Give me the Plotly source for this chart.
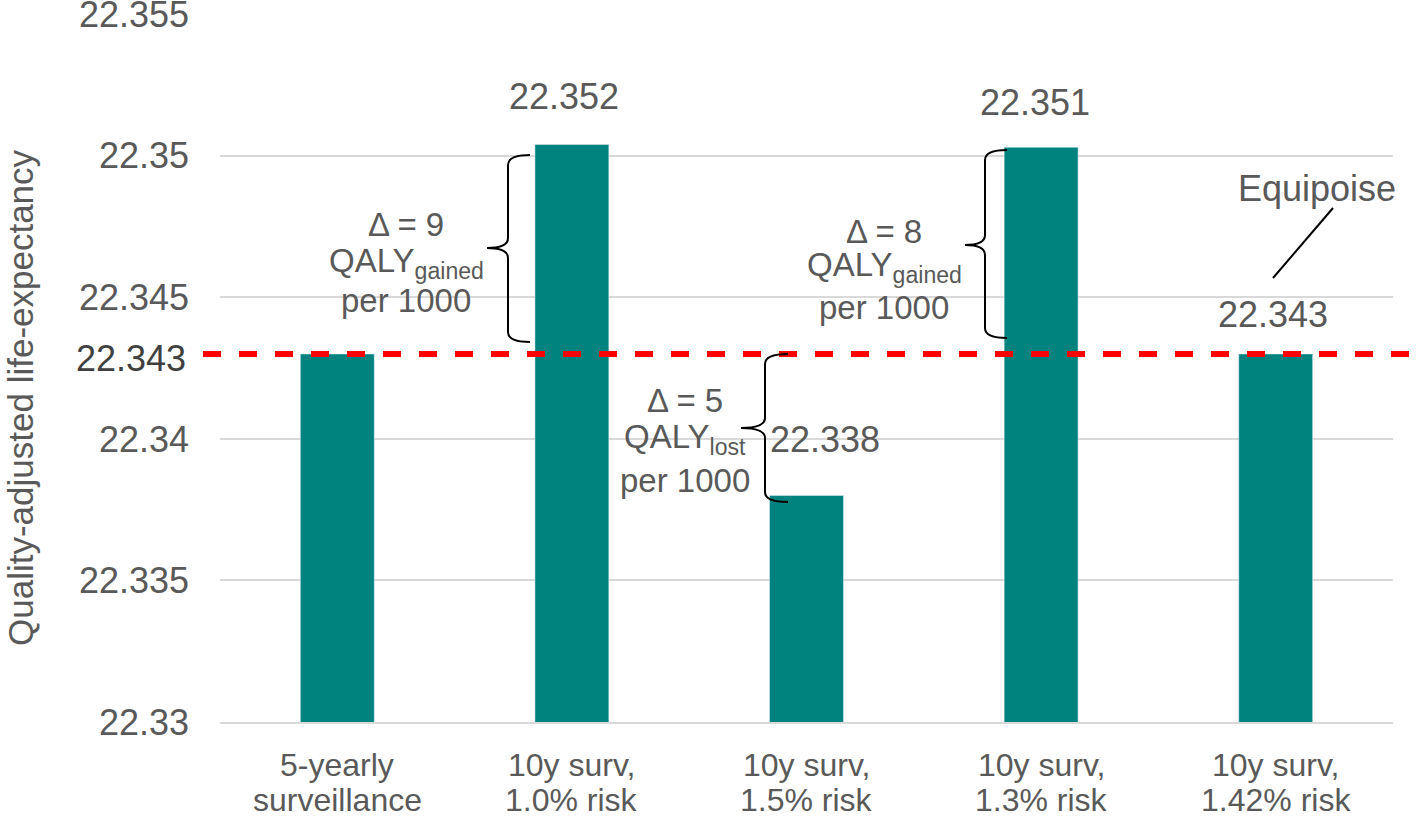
import plotly.graph_objects as go

# data
categories = ["5-yearly surveillance", "10y surv, 1.0% risk", "10y surv, 1.5% risk",
              "10y surv, 1.3% risk", "10y surv, 1.42% risk"]
cat_line1 = ["5-yearly", "10y surv,", "10y surv,", "10y surv,", "10y surv,"]
cat_line2 = ["surveillance", "1.0% risk", "1.5% risk", "1.3% risk", "1.42% risk"]
qale = [22.343, 22.3504, 22.338, 22.3503, 22.343]
bar_labels = ["", "22.352", "22.338", "22.351", "22.343"]
equipoise = 22.343
y_ticks = [22.33, 22.335, 22.34, 22.345, 22.35, 22.355]

FONT = "Liberation Sans, Arial, sans-serif"
GREY = "#595959"
TEAL = "#00827f"

# plot area in pixels (used for placing the hand-drawn annotations)
L, R, T, B = 220, 1393, 14, 722


def px(x):
    return (x - L) / (R - L)


def py(y):
    return (B - y) / (B - T)


def brace(x_end, x_mid, x_tip, y_top, y_tip, y_bot, r=10):
    # left-pointing curly brace, coordinates in pixels
    pts = [
        f"M {px(x_end)},{py(y_top)}",
        f"Q {px(x_mid)},{py(y_top)} {px(x_mid)},{py(y_top + r)}",
        f"L {px(x_mid)},{py(y_tip - r)}",
        f"Q {px(x_mid)},{py(y_tip)} {px(x_tip)},{py(y_tip)}",
        f"Q {px(x_mid)},{py(y_tip)} {px(x_mid)},{py(y_tip + r)}",
        f"L {px(x_mid)},{py(y_bot - r)}",
        f"Q {px(x_mid)},{py(y_bot)} {px(x_end)},{py(y_bot)}",
    ]
    return dict(type="path", xref="paper", yref="paper", path=" ".join(pts),
                line=dict(color="black", width=2))


def text_block(fig, x, ys, lines, size=33):
    for y, t in zip(ys, lines):
        fig.add_annotation(xref="paper", yref="paper", x=px(x), y=py(y), text=t,
                           showarrow=False, xanchor="center", yanchor="middle",
                           font=dict(size=size, color=GREY, family=FONT))


fig = go.Figure(go.Bar(
    x=categories, y=qale, marker_color=TEAL, width=0.315, hoverinfo="skip",
))

# value labels above the bars (pixel shifts)
label_shift = [(0, 0), (-8, 48), (18, 56), (-6, 45), (-3, 39)]
for i, (lab, v) in enumerate(zip(bar_labels, qale)):
    if not lab:
        continue
    dx, dy = label_shift[i]
    fig.add_annotation(x=categories[i], y=v, text=lab, showarrow=False,
                       xshift=dx, yshift=dy, xanchor="center", yanchor="middle",
                       font=dict(size=36, color=GREY, family=FONT))

# two-line category labels
for c, l1, l2 in zip(categories, cat_line1, cat_line2):
    fig.add_annotation(x=c, yref="paper", y=py(765), text=l1, showarrow=False,
                       xanchor="center", yanchor="middle",
                       font=dict(size=32, color=GREY, family=FONT))
    fig.add_annotation(x=c, yref="paper", y=py(800), text=l2, showarrow=False,
                       xanchor="center", yanchor="middle",
                       font=dict(size=32, color=GREY, family=FONT))

# equipoise line
fig.add_shape(type="line", xref="paper", yref="y", x0=px(203), x1=px(1416),
              y0=equipoise, y1=equipoise,
              line=dict(color="#ff0000", width=6, dash="dash"))

# braces
fig.add_shape(brace(530, 508, 487, 155, 248, 342))
fig.add_shape(brace(788, 765, 741, 354, 428, 502))
fig.add_shape(brace(1007, 985, 965, 150, 245, 338))

# delta annotations
text_block(fig, 406, [225, 263, 301], ["Δ = 9", "QALY<sub>gained</sub>", "per 1000"])
text_block(fig, 685, [400, 439, 481], ["Δ = 5", "QALY<sub>lost</sub>", "per 1000"])
text_block(fig, 884, [231, 267, 307], ["Δ = 8", "QALY<sub>gained</sub>", "per 1000"])

# equipoise callout
fig.add_shape(type="line", xref="paper", yref="paper", x0=px(1333), y0=py(208),
              x1=px(1273), y1=py(278), line=dict(color="black", width=2))
fig.add_annotation(xref="paper", yref="paper", x=px(1317), y=py(189), text="Equipoise",
                   showarrow=False, xanchor="center", yanchor="middle",
                   font=dict(size=36, color=GREY, family=FONT))

# extra tick label for equipoise value
fig.add_annotation(xref="paper", yref="y", x=px(188), y=equipoise, yshift=-5,
                   xanchor="right", yanchor="middle", text=f"{equipoise:.3f}",
                   showarrow=False, font=dict(size=36, color="#404040", family=FONT))

# y axis title
fig.add_annotation(xref="paper", yref="paper", x=px(20), y=py(398), textangle=-90,
                   xanchor="center", yanchor="middle",
                   text="Quality-adjusted life-expectancy", showarrow=False,
                   font=dict(size=35, color=GREY, family=FONT))

fig.update_layout(
    width=1416, height=819,
    margin=dict(l=L, r=1416 - R, t=T, b=819 - B),
    plot_bgcolor="white", paper_bgcolor="white",
    showlegend=False,
    font=dict(family=FONT, size=36, color=GREY),
)
fig.update_yaxes(
    range=[22.33, 22.35501], tickvals=y_ticks,
    ticktext=[f"{t:g}" for t in y_ticks], ticklabeloverflow="allow",
    automargin=False,
    showgrid=True, gridcolor="#d9d9d9", gridwidth=1.5, zeroline=False,
    ticklabelstandoff=30, tickfont=dict(size=36, color=GREY),
)
fig.update_xaxes(
    showline=True, linecolor="#d9d9d9", linewidth=2, showticklabels=False,
    automargin=False,
)

fig.write_html("out.html", config={"displayModeBar": False},
               post_script="document.body.style.margin = '0';")
